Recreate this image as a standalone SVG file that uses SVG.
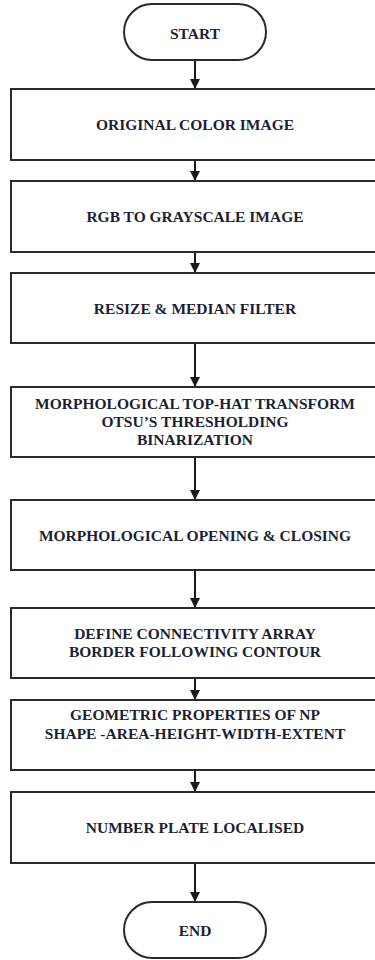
<svg xmlns="http://www.w3.org/2000/svg" width="375" height="960" viewBox="0 0 375 960">
<defs>
<marker id="ah" markerWidth="10" markerHeight="10" refX="9" refY="5" orient="auto" markerUnits="userSpaceOnUse">
<path d="M0,0 L10,5 L0,10 Z" fill="#1a1a1a"/>
</marker>
<style>
.box{fill:#ffffff;stroke:#2a2a2a;stroke-width:2}
.t{font-family:"Liberation Serif","Times New Roman",serif;font-weight:bold;font-size:15.5px;fill:#1c1f33;text-anchor:middle;dominant-baseline:central}
.c{stroke:#1a1a1a;stroke-width:2;fill:none;marker-end:url(#ah)}
</style>
</defs>
<rect width="375" height="960" fill="#ffffff"/>
<g id="connectors">
<line class="c" x1="195" y1="61" x2="195" y2="88"/>
<line class="c" x1="195" y1="161" x2="195" y2="180"/>
<line class="c" x1="195" y1="253" x2="195" y2="272"/>
<line class="c" x1="195" y1="344" x2="195" y2="386"/>
<line class="c" x1="195" y1="458" x2="195" y2="499"/>
<line class="c" x1="195" y1="571" x2="195" y2="607"/>
<line class="c" x1="195" y1="679" x2="195" y2="699"/>
<line class="c" x1="195" y1="771" x2="195" y2="791"/>
<line class="c" x1="195" y1="864" x2="195" y2="901"/>
</g>
<g id="start">
<rect class="box" x="124" y="4" width="142" height="56" rx="28" ry="28"/>
<text class="t" x="195" y="33">START</text>
</g>
<g id="n1">
<rect class="box" x="11" y="89" width="380" height="71"/>
<text class="t" x="195" y="124">ORIGINAL COLOR IMAGE</text>
</g>
<g id="n2">
<rect class="box" x="11" y="181" width="380" height="71"/>
<text class="t" x="195" y="216">RGB TO GRAYSCALE IMAGE</text>
</g>
<g id="n3">
<rect class="box" x="11" y="273" width="380" height="70"/>
<text class="t" x="195" y="308">RESIZE &amp; MEDIAN FILTER</text>
</g>
<g id="n4">
<rect class="box" x="11" y="387" width="380" height="70"/>
<text class="t" x="195" y="403">MORPHOLOGICAL TOP-HAT TRANSFORM</text>
<text class="t" x="195" y="421">OTSU’S THRESHOLDING</text>
<text class="t" x="195" y="439">BINARIZATION</text>
</g>
<g id="n5">
<rect class="box" x="11" y="500" width="380" height="70"/>
<text class="t" x="195" y="535">MORPHOLOGICAL OPENING &amp; CLOSING</text>
</g>
<g id="n6">
<rect class="box" x="11" y="608" width="380" height="70"/>
<text class="t" x="195" y="633">DEFINE CONNECTIVITY ARRAY</text>
<text class="t" x="195" y="651">BORDER FOLLOWING CONTOUR</text>
</g>
<g id="n7">
<rect class="box" x="11" y="700" width="380" height="70"/>
<text class="t" x="195" y="714">GEOMETRIC PROPERTIES OF NP</text>
<text class="t" x="195" y="733">SHAPE -AREA-HEIGHT-WIDTH-EXTENT</text>
</g>
<g id="n8">
<rect class="box" x="11" y="792" width="380" height="71"/>
<text class="t" x="195" y="827">NUMBER PLATE LOCALISED</text>
</g>
<g id="end">
<rect class="box" x="124" y="902" width="142" height="56" rx="28" ry="28"/>
<text class="t" x="195" y="930">END</text>
</g>
</svg>
